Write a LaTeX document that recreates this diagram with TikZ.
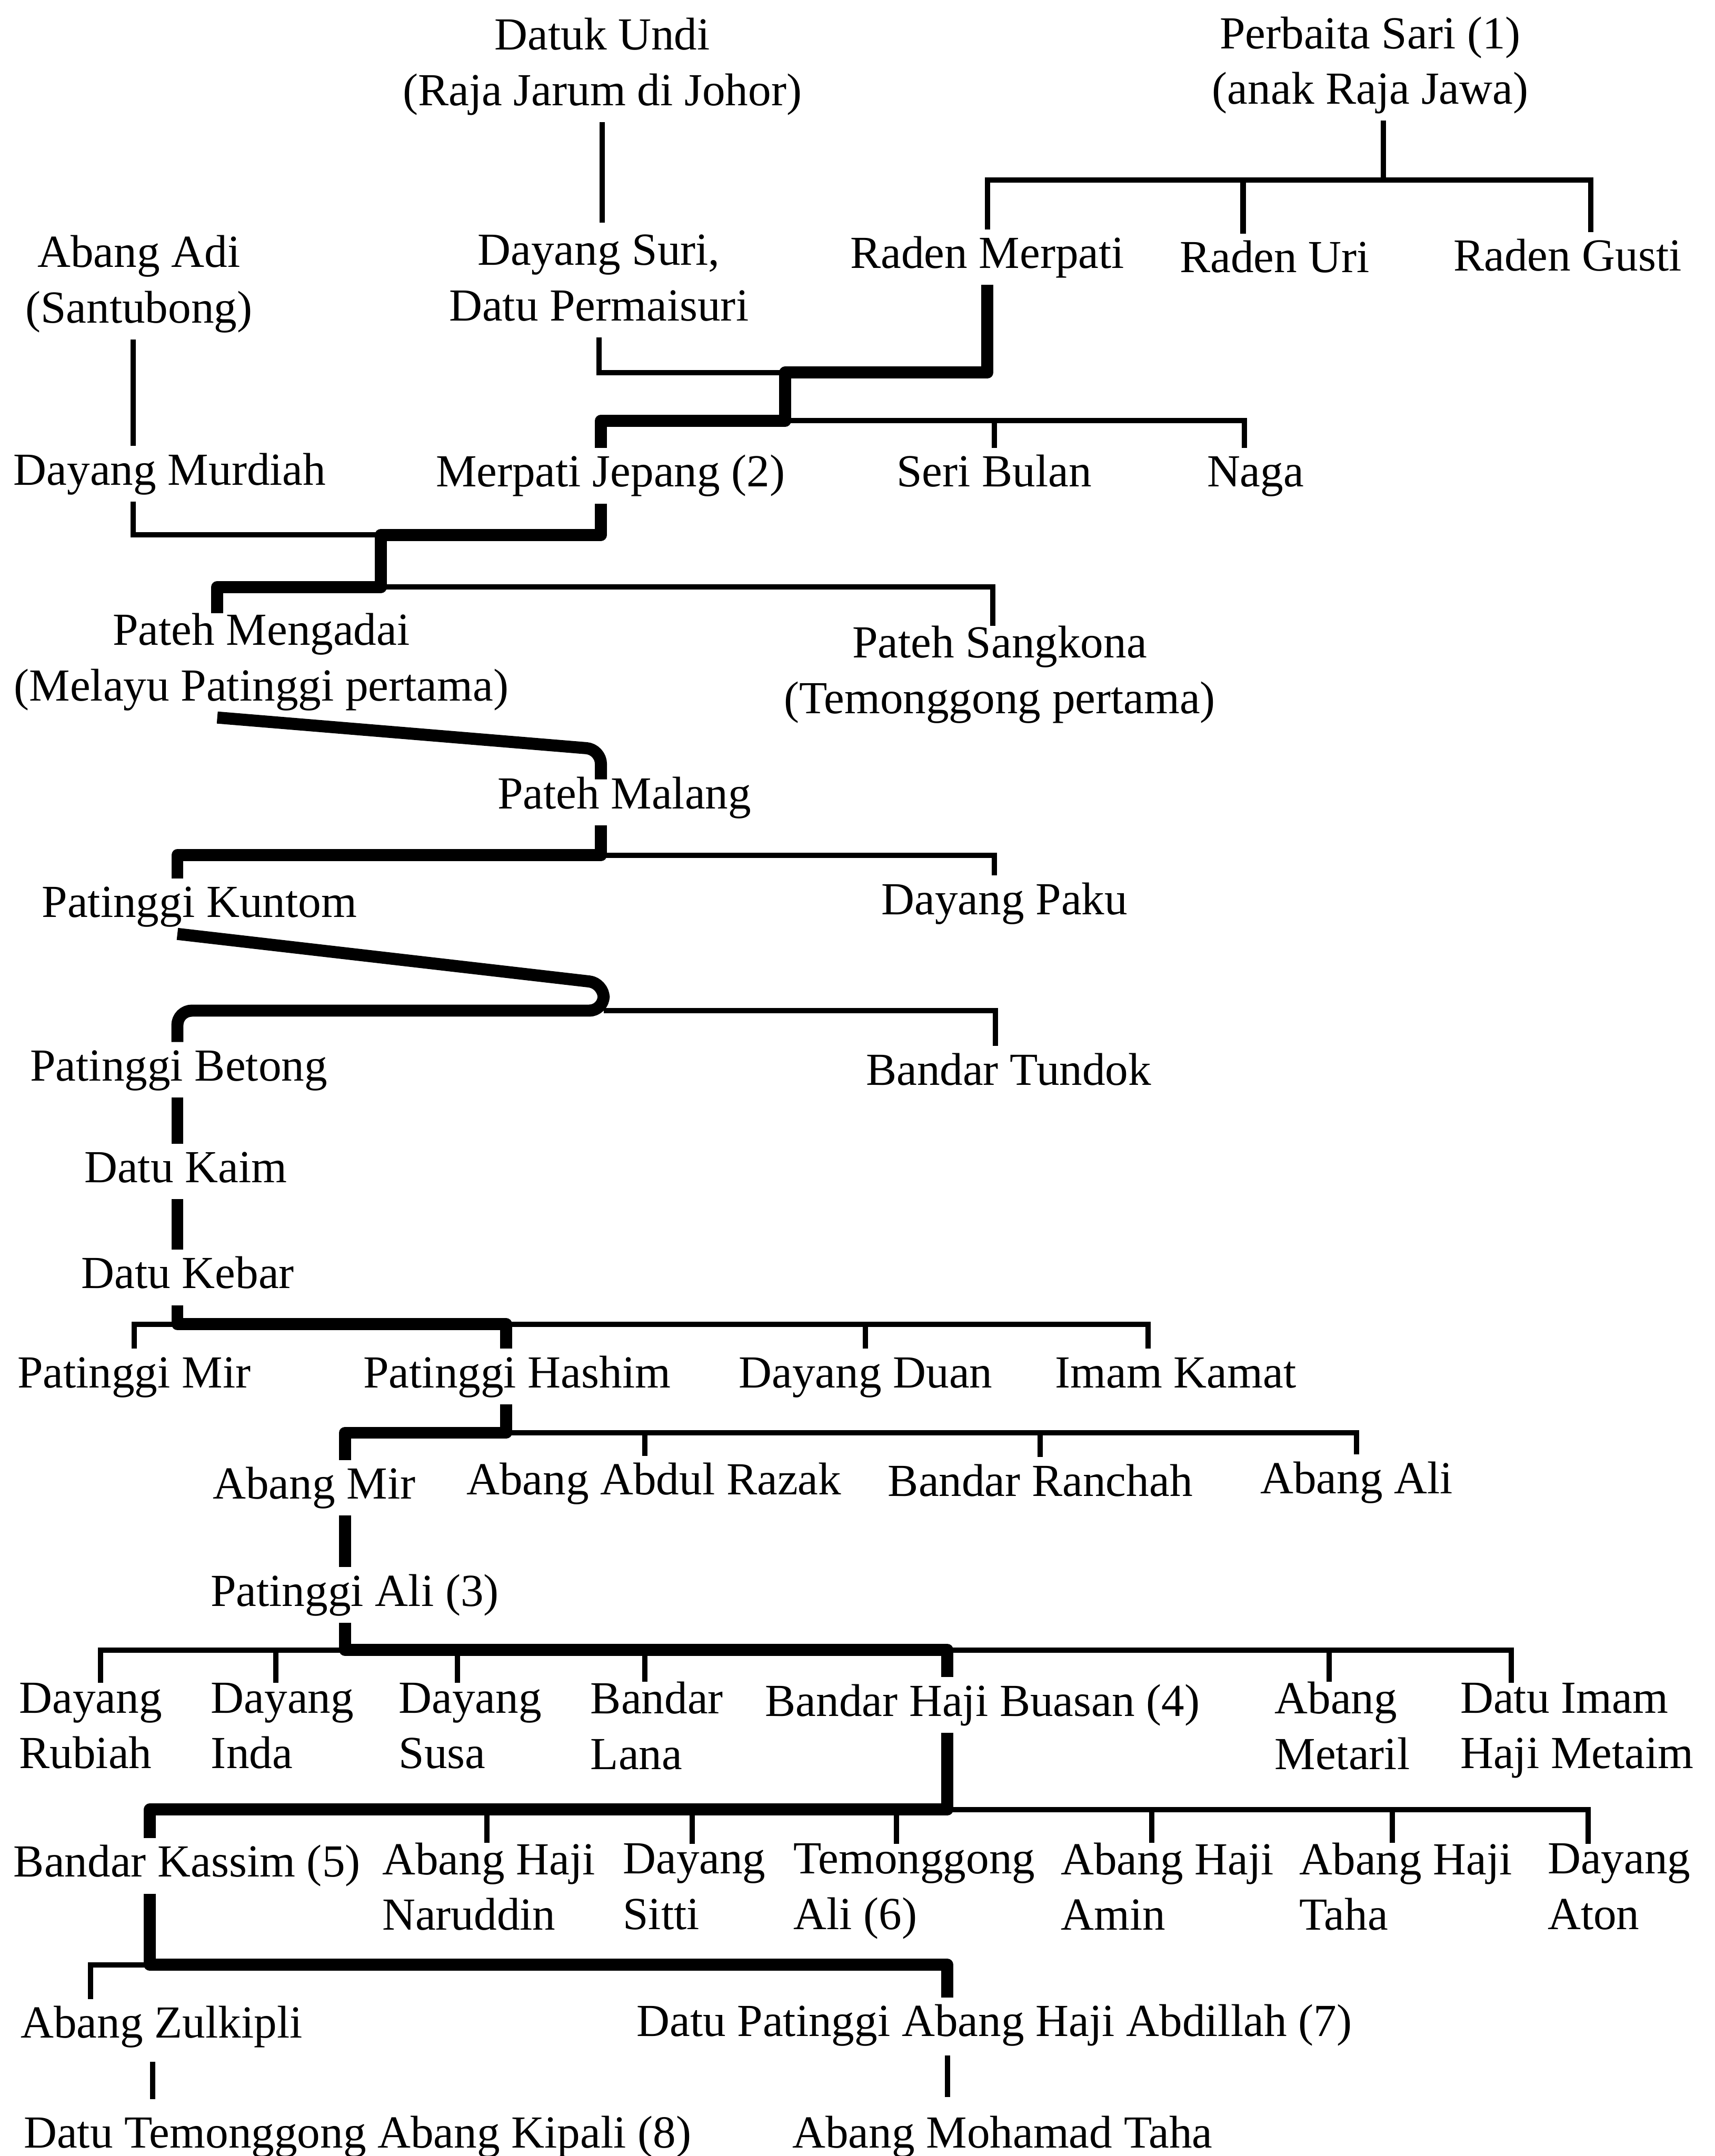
\documentclass[tikz,border=0pt]{standalone}
\usepackage{fontspec}
\setmainfont{Liberation Serif}
\begin{document}
\begin{tikzpicture}[x=0.02cm, y=-0.02cm,
  person/.style={inner sep=0pt, outer sep=0pt, align=center,
    font=\fontsize{19}{23}\selectfont,
    execute at begin node=\strut, execute at end node=\strut},
  personl/.style={person, align=left, anchor=west},
  kin/.style={line width=2.2pt},
  blood/.style={line width=5pt, line join=round}]
  \useasboundingbox (0,0) rectangle (1247,1568);

  % people
  \node[person] (undi) at (438,51) {Datuk Undi\\(Raja Jarum di Johor)};
  \node[person] (perbaita) at (996.5,50) {Perbaita Sari (1)\\(anak Raja Jawa)};
  \node[person] (adi) at (101,209) {Abang Adi\\(Santubong)};
  \node[person] (suri) at (435.5,208) {Dayang Suri,\\Datu Permaisuri};
  \node[person] (rmerpati) at (718,187) {Raden Merpati};
  \node[person] (ruri) at (927,190) {Raden Uri};
  \node[person] (rgusti) at (1140,189) {Raden Gusti};
  \node[person] (murdiah) at (123.5,344.5) {Dayang Murdiah};
  \node[person] (mjepang) at (444,346) {Merpati Jepang (2)};
  \node[person] (seri) at (723,346) {Seri Bulan};
  \node[person] (naga) at (913,346) {Naga};
  \node[person] (mengadai) at (190,484) {Pateh Mengadai\\(Melayu Patinggi pertama)};
  \node[person] (sangkona) at (727,493) {Pateh Sangkona\\(Temonggong pertama)};
  \node[person] (malang) at (454,580) {Pateh Malang};
  \node[person] (kuntom) at (145,659) {Patinggi Kuntom};
  \node[person] (paku) at (730.5,657) {Dayang Paku};
  \node[person] (betong) at (130,778) {Patinggi Betong};
  \node[person] (tundok) at (733.5,781) {Bandar Tundok};
  \node[person] (kaim) at (135,852) {Datu Kaim};
  \node[person] (kebar) at (136.5,929) {Datu Kebar};
  \node[person] (pmir) at (97.5,1001) {Patinggi Mir};
  \node[person] (hashim) at (376,1001) {Patinggi Hashim};
  \node[person] (duan) at (629.5,1001) {Dayang Duan};
  \node[person] (kamat) at (855,1001) {Imam Kamat};
  \node[person] (amir) at (228.5,1082) {Abang Mir};
  \node[person] (razak) at (475.5,1079) {Abang Abdul Razak};
  \node[person] (ranchah) at (756.5,1080) {Bandar Ranchah};
  \node[person] (aali) at (986.5,1078) {Abang Ali};
  \node[person] (pali) at (258,1160) {Patinggi Ali (3)};
  \node[personl] (rubiah) at (14,1261) {Dayang\\Rubiah};
  \node[personl] (inda) at (153.5,1261) {Dayang\\Inda};
  \node[personl] (susa) at (290,1261) {Dayang\\Susa};
  \node[personl] (lana) at (429.5,1261) {Bandar\\Lana};
  \node[person] (buasan) at (714.5,1240) {Bandar Haji Buasan (4)};
  \node[personl] (metaril) at (927,1261) {Abang\\Metaril};
  \node[personl] (metaim) at (1062,1261) {Datu Imam\\Haji Metaim};
  \node[person] (kassim) at (136,1357) {Bandar Kassim (5)};
  \node[personl] (naruddin) at (278,1378) {Abang Haji\\Naruddin};
  \node[personl] (sitti) at (453,1378) {Dayang\\Sitti};
  \node[personl] (tali) at (577,1378) {Temonggong\\Ali (6)};
  \node[personl] (amin) at (771.5,1378) {Abang Haji\\Amin};
  \node[personl] (taha) at (945,1378) {Abang Haji\\Taha};
  \node[personl] (aton) at (1125.5,1378) {Dayang\\Aton};
  \node[person] (zulkipli) at (117.5,1474) {Abang Zulkipli};
  \node[person] (abdillah) at (723,1473) {Datu Patinggi Abang Haji Abdillah (7)};
  \node[person] (kipali) at (260,1554) {Datu Temonggong Abang Kipali (8)};
  \node[person] (mtaha) at (729,1554) {Abang Mohamad Taha};

  % junctions
  \coordinate (psr) at (1006,131);
  \coordinate (uri) at (904,131);
  \coordinate (gus) at (1157,131);
  \coordinate (j1) at (571,271);
  \coordinate (mj) at (437,306);
  \coordinate (ng) at (905,306);
  \coordinate (m1) at (97,389);
  \coordinate (j2) at (277,389);
  \coordinate (mg) at (158,427);
  \coordinate (sk) at (722,427);
  \coordinate (ml) at (437,545);
  \coordinate (kt) at (129,622);
  \coordinate (pk) at (723,622);
  \coordinate (kb) at (439,715);
  \coordinate (bt) at (129,735);
  \coordinate (td) at (724,735);
  \coordinate (hs) at (368,963);
  \coordinate (km) at (835,963);
  \coordinate (am) at (251,1042);
  \coordinate (rz) at (469,1042);
  \coordinate (bh) at (689,1200);
  \coordinate (rb) at (73,1200);
  \coordinate (mt) at (1099,1200);
  \coordinate (ks) at (109,1316);
  \coordinate (atn) at (1155,1316);
  \coordinate (ab) at (689,1429);
  \coordinate (zk) at (66,1429);
  \coordinate (zl) at (111,1500);

  % first generations
  \draw[kin, shorten >=5pt] (undi) -- (undi |- suri.north);
  \draw[kin] (psr |- perbaita.south) -- (psr);
  \draw[kin] (rmerpati.north) |- (gus) -- (gus |- rgusti.north);
  \draw[kin] (uri) -- (uri |- ruri.north);
  \draw[kin] (suri.south) |- (j1);
  \draw[blood] (rmerpati.south) |- (j1) |- (mj) -- (mj |- mjepang.north);
  \draw[kin] (j1 |- mj) -- (ng) -- (ng |- naga.north);
  \draw[kin] (seri.north |- mj) -- (seri.north);
  \draw[kin] (m1 |- adi.south) -- (m1 |- murdiah.north);
  \draw[kin] (m1 |- murdiah.south) -- (m1) -- (j2);
  \draw[blood] (mj |- mjepang.south) |- (j2) |- (mg) -- (mg |- mengadai.north);
  \draw[kin] (j2 |- mg) -- (sk) -- (sk |- sangkona.north);
  \draw[blood, rounded corners=6pt, shorten >=-4pt] (mg |- mengadai.south) -- (ml) -- (ml |- malang.north);
  \draw[blood] (ml |- malang.south) |- (kt) -- (kt |- kuntom.north);
  \draw[kin] (ml |- kt) -- (pk) -- (pk |- paku.north);
  \draw[blood, rounded corners=6pt] (kt |- kuntom.south) -- (kb) -- (kb |- bt) -- (bt) -- (bt |- betong.north);
  \draw[kin] (kb |- bt) -- (td) -- (td |- tundok.north);
  \draw[blood] (bt |- betong.south) -- (bt |- kaim.north);
  \draw[blood] (bt |- kaim.south) -- (bt |- kebar.north);

  % Datu Kebar and after
  \draw[blood] (bt |- kebar.south) |- (hs) -- (hs |- hashim.north);
  \draw[kin] (pmir.north) |- (bt |- hs);
  \draw[kin] (hs) -- (km) -- (km |- kamat.north);
  \draw[kin] (duan.north |- hs) -- (duan.north);
  \draw[blood] (hs |- hashim.south) |- (am) -- (am |- amir.north);
  \draw[kin] (hs |- am) -- (aali.north |- am) -- (aali.north);
  \draw[kin] (rz) -- (rz |- razak.north);
  \draw[kin] (ranchah.north |- am) -- (ranchah.north);
  \draw[blood] (am |- amir.south) -- (am |- pali.north);

  % Patinggi Ali and after
  \draw[blood] (am |- pali.south) |- (bh) -- (bh |- buasan.north);
  \draw[kin] (rb |- rubiah.north) |- (am |- bh);
  \draw[kin] (bh) -- (mt) -- (mt |- metaim.north);
  \foreach \x/\n in {200.5/inda, 332.5/susa, 469/lana, 966.5/metaril}
    {\coordinate (t) at (\x,1200); \draw[kin] (t) -- (t |- \n.north);}
  \draw[blood] (bh |- buasan.south) |- (ks) -- (ks |- kassim.north);
  \draw[kin] (bh |- ks) -- (atn) -- (atn |- aton.north);
  \foreach \x/\n in {354/naruddin, 503.5/sitti, 652/tali, 837.5/amin, 1012.5/taha}
    {\coordinate (t) at (\x,1316); \draw[kin] (t) -- (t |- \n.north);}
  \draw[blood] (ks |- kassim.south) |- (ab) -- (ab |- abdillah.north);
  \draw[kin] (zk |- zulkipli.north) |- (ks |- ab);
  \draw[kin, shorten <=3pt, shorten >=4pt] (zl |- zulkipli.south) -- (zl |- kipali.north);
  \draw[kin, shorten <=1pt, shorten >=5pt] (ab |- abdillah.south) -- (ab |- mtaha.north);
\end{tikzpicture}
\end{document}
